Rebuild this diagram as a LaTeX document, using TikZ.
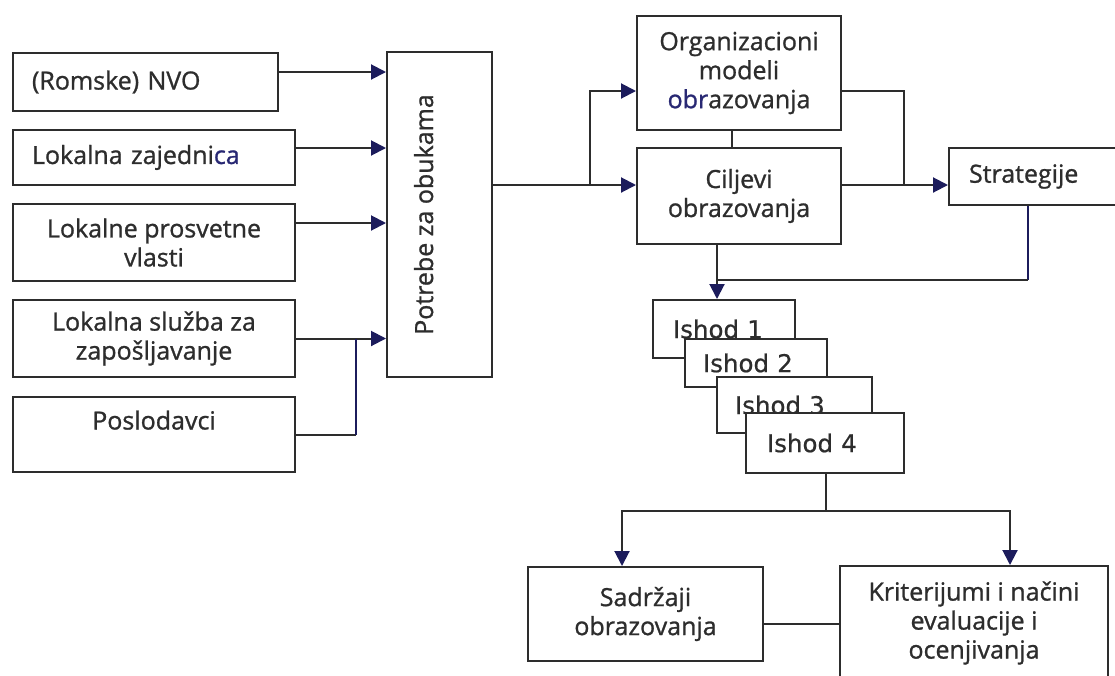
\documentclass[tikz,border=0pt]{standalone}
\usepackage{fontspec}
\setmainfont{Open Sans}[FakeBold=1]
\newfontfamily\ishodfont{DejaVu Sans}[FakeBold=0.6]
\usepackage{xcolor}
\usetikzlibrary{arrows.meta,calc,positioning}
\definecolor{lin}{RGB}{45,45,45}
\definecolor{navy}{RGB}{28,28,92}
\definecolor{tinta}{RGB}{40,40,115}

\begin{document}
\begin{tikzpicture}[x=1pt,y=-1pt,
  box/.style={draw=lin,line width=2pt,fill=white,text=lin,inner sep=0pt,align=center,
    font=\fontsize{25}{29}\selectfont},
  ishod/.style={box,align=left,font=\ishodfont\fontsize{24.5}{28}\selectfont},
  line/.style={draw=lin,line width=2pt},
  arr/.style={line,-{Triangle[length=15pt,width=15pt,color=navy]}},
  plava/.style={draw=navy,line width=1.5pt}]
\useasboundingbox (0,0) rectangle (1115,675);
\clip (0,0) rectangle (1115,675);
% izvori potreba
\node[box,minimum width=265pt,minimum height=58pt,text width=227pt,align=left] (nvo) at (145.5,82) {(Romske) NVO};
\node[box,minimum width=282pt,minimum height=55pt,text width=244pt,align=left] (zaj) at (154,157.5) {Lokalna zajedni\textcolor{tinta}{ca}};
\node[box,minimum width=282pt,minimum height=77pt] (pros) at (154,242.5) {Lokalne prosvetne\\vlasti};
\node[box,minimum width=282pt,minimum height=77pt] (sluz) at (154,338.5) {Lokalna služba za\\zapošljavanje};
\node[box,minimum width=282pt,minimum height=75pt] (posl) at (154,434.5) {Poslodavci\\\mbox{}};
\node[box,rotate=90,minimum width=325pt,minimum height=105pt,text height=18pt,text depth=31pt,
  font=\fontsize{25}{29}\selectfont] (potr) at (439.5,214.5) {Potrebe za obukama};
% ciljevi i modeli
\node[box,minimum width=204pt,minimum height=114pt] (org) at (739,73) {Organizacioni\\modeli\\\textcolor{tinta}{obr}azovanja};
\node[box,minimum width=204pt,minimum height=96pt] (cilj) at (739,196) {Ciljevi\\obrazovanja};
\node[box,minimum width=200pt,minimum height=57pt,text width=160pt,align=left] (strat) at (1049,176.5) {Strategije};
% ishodi
\node[ishod,minimum width=142pt,minimum height=58pt,text width=102pt] (ishod1) at (724,329) {Ishod 1};
\node[ishod,minimum width=142pt,minimum height=48pt,text width=106pt] (ishod2) at (756,363) {Ishod 2};
\node[ishod,minimum width=155pt,minimum height=56pt,text width=119pt] (ishod3) at (794.5,405) {Ishod 3};
\node[ishod,minimum width=158pt,minimum height=60pt,text width=116pt] (ishod4) at (825,443) {Ishod 4};
\node[box,minimum width=235pt,minimum height=94pt] (sadr) at (645.5,614) {Sadržaji\\obrazovanja};
\node[box,minimum width=268pt,minimum height=114pt] (krit) at (974,623) {Kriterijumi i načini\\evaluacije i\\ocenjivanja};
% spojnice
\coordinate (jl) at (356,339);
\coordinate (jp) at (590,185);
\coordinate (jo) at (904,185);
\coordinate (js) at (717,280);
\coordinate (jb) at (826,511);
\draw[arr] ([yshift=10pt]nvo.east) -- ([yshift=10pt]nvo.east -| potr.north);
\draw[arr] ([yshift=9.5pt]zaj.east) -- ([yshift=9.5pt]zaj.east -| potr.north);
\draw[arr] ([yshift=19.5pt]pros.east) -- ([yshift=19.5pt]pros.east -| potr.north);
\draw[arr] (sluz.east) -- (sluz.east -| potr.north);
\draw[line] (posl.east) -- (posl.east -| jl);
\draw[plava] (posl.east -| jl) -- (jl);
\draw[arr] (jp -| potr.south) -- (jp -| cilj.west);
\draw[arr] (jp) |- ([yshift=-18pt]org.west);
\draw[line] ([xshift=-7pt]org.south) -- ([xshift=-7pt]cilj.north);
\draw[line] ([yshift=-18pt]org.east) -| (jo);
\draw[arr] (jo -| cilj.east) -- (jo -| strat.west);
\draw[arr] ([xshift=-22pt]cilj.south) -- ([xshift=-22pt]cilj.south |- ishod1.north);
\draw[plava] ([xshift=-21pt]strat.south) -- ([xshift=-21pt]strat.south |- js);
\draw[line] ([xshift=-21pt]strat.south |- js) -- (js);
\draw[line] ([xshift=1pt]ishod4.south) -- (jb);
\draw[arr] (jb) -| ([xshift=-23.5pt]sadr.north);
\draw[arr] (jb) -| ([xshift=36pt]krit.north);
\draw[line] ([yshift=-10pt]sadr.east) -- ([yshift=-10pt]sadr.east -| krit.west);
\end{tikzpicture}
\end{document}
